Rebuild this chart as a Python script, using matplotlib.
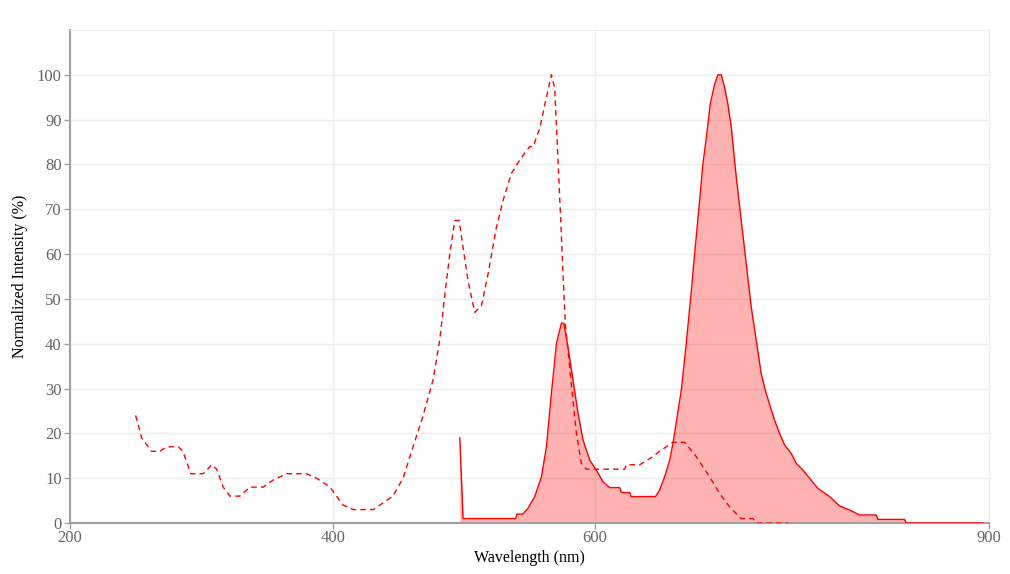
import matplotlib
matplotlib.use("Agg")
from matplotlib import pyplot as plt

# excitation spectrum (dashed)
ex_wl = [250, 254.6, 262, 268.5, 273.6, 282.5, 286, 292, 301.5, 308, 311.7, 316.7,
         321.8, 329.4, 337, 347, 354.8, 365, 380, 387.8, 398, 408, 415.7, 431, 446,
         453.7, 461.3, 469, 476.6, 481.7, 485.5, 489.3, 493.1, 496.4, 499.4, 503.2,
         508.3, 513.4, 518.4, 524.8, 529.9, 536.2, 542.6, 550.2, 552.7, 557.8, 562.9,
         566.7, 569.2, 571.7, 573.8, 575.5, 577.4, 581.9, 585.7, 589.5, 593.3, 622.5,
         623.8, 634, 644, 649, 659.3, 668.2, 677, 687.2, 694.8, 702.4, 711.3, 720.1,
         722.6, 746.8]
ex_int = [24, 19, 16, 16, 17, 17, 16, 11, 11, 13, 12, 8,
          6, 6, 8, 8, 9.6, 11, 11, 10, 8, 4, 3, 3, 6,
          10, 17, 24, 32, 41, 51, 60, 67.5, 67.5, 61.5, 54,
          47, 48.5, 55.5, 66, 72, 78, 81, 84, 84, 88, 95,
          100, 97, 81, 67.5, 55.5, 44, 31, 20, 13.3, 12, 12,
          13, 13, 14.8, 16, 18, 18, 14.8, 10.3, 6.6, 3.6, 1, 1,
          0, 0]

# emission spectrum (solid, filled)
em_wl = [496.9, 499.4, 539.5, 540.5, 545, 548.9, 554, 559.1, 562.9, 566.7, 570.5,
         574.3, 576.1, 579.3, 583.2, 587, 590.8, 595.9, 600.9, 606, 611.1, 618.7,
         620, 626.3, 627.5, 646, 649, 652.9, 656.8, 659.3, 665.6, 669.4, 673.3, 675.8,
         679.1, 682.1, 684.7, 687.7, 691, 693.5, 696.1, 698.6, 701.1, 703.7, 707.5,
         711.3, 715.1, 718.9, 722.7, 726.5, 730.3, 736.7, 740.5, 744.3, 749.4, 753.2,
         758.3, 763.3, 769.7, 778.6, 786.2, 793.8, 801.4, 814, 815.4, 835.6, 837, 895.3]
em_int = [19, 1, 1, 2, 2, 3.3, 5.9, 10.3, 17, 29, 40,
          44.6, 44.6, 39.3, 31.8, 24.4, 18.5, 14, 11.8, 9.2, 7.9, 7.9,
          6.8, 6.8, 5.9, 5.9, 7.3, 10.3, 14, 17.8, 29.6, 40, 51.9, 60.1,
          70.4, 80.1, 86, 93.5, 97.9, 100, 100, 97.2, 93.5, 88.3, 77.1,
          67.5, 57.8, 48.2, 40.8, 33.3, 28.9, 22.9, 20, 17.4, 15.5, 13.3,
          11.8, 10, 7.7, 5.9, 3.8, 2.9, 1.8, 1.8, 0.8, 0.8, 0, 0]

x_ticks = [200, 400, 600, 900]
y_ticks = list(range(0, 101, 10))

plt.rcParams['font.family'] = ['Liberation Serif', 'DejaVu Serif']

fig = plt.figure(figsize=(10.10, 5.74), dpi=100)
ax = fig.add_axes([70 / 1010, 51 / 574, 919 / 1010, 493 / 574])

ax.fill_between(em_wl, em_int, 0, color=(1, 0, 0, 0.3), linewidth=0, zorder=2)
ax.plot(em_wl, em_int, color='red', linewidth=1, zorder=3)
ax.plot(ex_wl, ex_int, color='red', linewidth=1, linestyle=(0, (4, 3)), zorder=3)

ax.set_xlim(200, 900)
ax.set_ylim(0, 110)
ax.set_xticks(x_ticks)
ax.set_yticks(y_ticks)

ax.grid(True, color='#eeeeee', linewidth=1, zorder=0)
ax.set_axisbelow(True)

for side in ['top', 'right']:
    ax.spines[side].set_color('#eeeeee')
for side in ['left', 'bottom']:
    ax.spines[side].set_color('#a0a0a0')
    ax.spines[side].set_linewidth(1.5)

ax.tick_params(axis='both', colors='#a0a0a0', labelcolor='#666666',
               labelsize=12, length=4, width=1)
ax.tick_params(axis='x', pad=1)
ax.tick_params(axis='y', pad=2)

ax.set_xlabel('Wavelength (nm)', fontsize=11.5, color='black', labelpad=3)
ax.set_ylabel('Normalized Intensity (%)', fontsize=11.5, color='black', labelpad=6)

fig.savefig('out.png', dpi=100)
